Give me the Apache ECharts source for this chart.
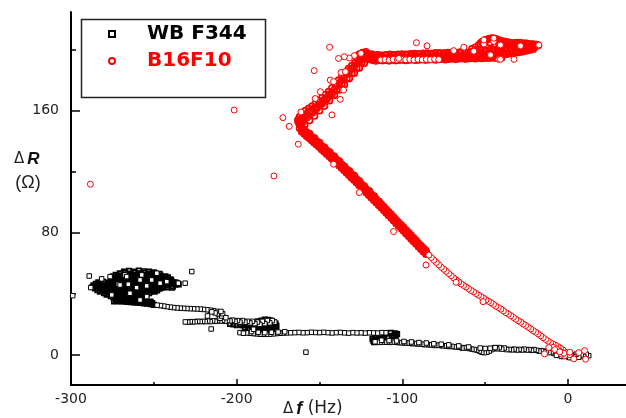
<!DOCTYPE html>
<html>
<head>
<meta charset="utf-8">
<script src="https://cdn.jsdelivr.net/npm/echarts@6/dist/echarts.min.js"></script>
<style>html,body{margin:0;padding:0;background:#fff}#c{width:626px;height:418px}</style>
</head>
<body>
<div id="c"></div>
<script>
// ---- axis ticks ----
const xMajorTicks = [-300, -200, -100, 0];
const xMinorTicks = [-250, -150, -50];
const yMajorTicks = [0, 80, 160];
const yMinorTicks = [40, 120, 200];

// ---- WB F344 (black squares) ----
const wbOriginBand = [
[12.5,-0.5],[11,0.5],[9.5,-1],[8,0],[6.5,-1.5],[5,0.5],[3.5,-1],[2,0],[0.5,-1.5],[-1,0],[-2.5,-1],[-4,1],[-5.5,0.5],[-7,1.5],[-8.5,1],[-10,2],[-11.5,1.5],[-13,2.5],[-14.5,2],[-16,2.8],[-17.5,2.5],[-19,3],[-20.5,3.5],[-22,3],[-23.5,3.5],[-25,3.2],[-26.5,3.8],[-28,3.2],[-29.5,3.6],[-31,3.2],[-32.5,3.8],[-34,3.3],[-35.5,3.6],[-37,3.5],[-38.5,4.5],[-40,3.8],[-41.5,4.8],[-43,4],[-44.5,4.6],[-46,3.5],[-47.5,2.5],[-49,1.8],[-50.5,1.5],[-52,1.8],[-53.5,2.5],[-55,3.2],[-56.5,3.5],[-58,3.8],[-59.5,4.2],[-61,4.5],[-62.5,4.8],[-64,4.5],[-65.5,5],[-67,5.2],[-68.5,5.3],[-70,5.6],[-71.5,5.5],[-73,5.8],[-74.5,6],[-76,6],[-77.5,6.2],[-79,6.4],[-80.5,6.2],[-82,6.5],[-83.5,6.6],[-85,6.8],[-86.5,6.7],[-88,7],[-89.5,7.2],[-91,7.2],[-92.5,7.5],[-94,7.4],[-95.5,7.6],[-97,7.8],[-98.5,7.8],[-100,8],[-101.5,8],[-103,8.2],[-104.5,8.3],[-106,8.4],[-107.5,8.2],[-109,8.4],[-110.5,8.3],[-112,8.5],[-113.5,8.2],[-115,8.4],[-116.5,8.6],
[-44,4.8],[-47,4.4],[-50,4.2],[-53,4.5],[-4,-1],[1,-1.8],[-7,-0.3],
[-72,6.6],[-76.5,7],[-81,7.3],[-85.5,7.8],[-90,8.1],[-94.5,8.5],[-99,8.8],[-103.5,9.2],[-108,9.4],[-112.5,9.6],[-60,5.2],[-66,5.9]
];
const wbLoop105 = [
[-117.5,9.2],[-116,10],[-113.5,10.6],[-111,11.2],[-108.5,11.8],[-106,12.4],[-104,13],[-103.2,13.6],[-104.5,14.2],[-107,14.5],[-115,9.5],[-117,8.3],[-112,10.2],[-109,11],[-105,12.6],[-118,10.5],[-116.5,11.5],[-114,12]
];
const wbRow15 = [
[-110,14.5],[-112.5,14.6],[-115,14.3],[-117.5,14.4],[-120,14.5],[-122.5,14.3],[-125,14.5],[-127.5,14.4],[-130,14.6],[-132.5,14.3],[-135,14.5],[-137.5,14.7],[-140,14.6],[-142.5,14.4],[-145,14.6],[-147.5,14.8],[-150,14.6],[-152.5,14.7],[-155,14.8],[-157.5,14.6],[-160,14.5],[-162.5,14.7],[-165,14.6],[-167.5,14.5],[-170,14.4],[-172,14.3],[-174,14.2],[-176,14],[-178,13.8],[-180,13.6],[-182,13.5],[-184,13.5],[-186,13.6],[-188,13.8],[-190,14],[-192,14.2],[-194,14.4],[-196,14.5],[-198,14.6],
[-171,15.2],[-175,15],[-179,14.8],[-183,14.6],[-187,14.8],[-191,15.3]
];
const wbLoop180 = [
[-176.5,20.5],[-176,19],[-176.5,17.5],[-177.5,16],[-179,15],[-181,14.5],[-183,15],[-185,15.5],[-187,16],[-189,16.5],[-178,21.5],[-179.5,22.5],[-181,23],[-183,23.2],[-185,22.5],[-187,22],[-184,17.5],[-186,18.5],[-188,19],[-190,19.5],[-180,18],[-182,19.5],[-178.5,17.5],
[-178,19.5],[-180,20],[-182,20.3],[-184,19.8],[-186,20.2],[-188,19.6],[-190,20],[-192,19.4],[-194,19.8],[-196,19.3],[-198,19.7],[-200,19.5],[-202,20],[-204,20.3],
[-179,17.8],[-181,16.8],[-183,17.2],[-185,17],[-187,17.6],[-189,17.3],[-191,17.8],[-193,17.5],[-195,17.9]
];
const wbRow22 = [
[-177,21.5],[-178.5,22.5],[-180,21],[-181.5,22.5],[-183,20.5],[-184.5,22],[-186,20],[-187.5,21.5],[-189,20.5],[-190.5,22],[-192,21],[-193.5,22],[-195,21.5],[-196.5,22.5],[-198,21.5],[-199.5,22.5],[-201,22],[-202.5,22.8],[-204,22.3],[-205.5,22.5],[-207,22],[-208.5,22.6],[-210,22.2],[-211.5,22.5],[-213,22],[-214.5,22.3],[-216,21.8],[-217.5,22.2],[-219,21.8],[-220.5,22],[-222,21.8],[-223.5,22],[-225,21.8],[-226.5,21.6],[-228,21.8],[-229.5,21.5],[-231,21.6],
[-210,24],[-209,25.5],[-208.5,27],[-209.5,28.5]
];
const wbRow33Thin = [
[-210,27.5],[-212,28.5],[-214,29],[-216,29.3],[-218,29.6],[-220,29.8],[-222,30],[-224,30.1],[-226,30.2],[-228,30.3],[-230,30.4],[-232,30.5],[-234,30.6],[-236,30.8],[-238,31],[-240,31.3],[-242,31.6],[-244,32],[-246,32.3],[-248,32.6],
[-211,26.5],[-213,27.5],[-215,28.2]
];
const wbRow33Thick = [
[-250,32.8],[-252,33.2],[-254,33.5],[-256,33.8],[-258,34],[-260,34.2],[-262,34.4],[-264,34.6],[-266,34.8],[-268,35],[-270,35],[-272,35.2],[-274,35],
[-252,35],[-256,35.8],[-260,36],[-264,36.2],[-268,36.4],[-272,36.3],
[-251,34],[-253,34.6],[-255,34.9],[-257,35.2],[-259,35.3],[-261,35.5],[-263,35.6],[-265,35.8],[-267,36],[-269,36],[-271,36.1],[-273,36]
];
const wbCluster = [
[-268,54.5],[-265,55],[-262,54.6],[-259,55.2],[-256,54.8],[-253,54.5],[-250,54],
[-273,52.5],[-270,53],[-267,52.4],[-264,52.8],[-261,52.3],[-258,52.9],[-255,52.5],[-252,52.2],[-249,52.6],[-246,52],[-243,51.5],
[-275,50.5],[-272,50.8],[-269,50.3],[-266,50.7],[-263,50.2],[-260,50.6],[-257,50.4],[-254,50.8],[-251,50.2],[-248,50.5],[-245,50.1],[-242,49.8],[-240,49.5],
[-276,48.5],[-273,48.8],[-270,48.2],[-267,48.6],[-264,48.3],[-261,48.7],[-258,48.4],[-255,48.8],[-252,48.2],[-249,48.6],[-246,48.3],[-243,48],[-240,48.2],[-237,47.6],
[-285,46.5],[-282,46.8],[-279,46.3],[-276,46.7],[-273,46.2],[-270,46.6],[-267,46.4],[-264,46.8],[-261,46.2],[-258,46.5],[-255,46.3],[-252,46.7],[-249,46.2],[-246,46.5],[-243,46.1],[-240,46.4],[-237,46],[-235,46.2],
[-287,44.5],[-284,44.8],[-281,44.3],[-278,44.7],[-275,44.2],[-272,44.6],[-269,44.4],[-266,44.8],[-263,44.2],[-260,44.5],[-257,44.3],[-254,44.7],[-251,44.2],[-248,44.5],[-245,44.1],[-242,44.3],[-239,44],
[-284,42.5],[-281,42.8],[-278,42.3],[-275,42.7],[-272,42.2],[-269,42.6],[-266,42.4],[-263,42.8],[-260,42.2],[-257,42.5],[-254,42.3],[-251,42.6],[-248,42.2],
[-280,40.5],[-277,40.8],[-274,40.3],[-271,40.7],[-268,40.2],[-265,40.6],[-262,40.4],[-259,40.8],[-256,40.2],[-253,40.5],
[-276,38.5],[-273,38.8],[-270,38.3],[-267,38.7],[-264,38.2],[-261,38.6],[-258,38.4],[-255,38.8],
[-272,37],[-268,37.3],[-264,36.8],[-260,37.2],[-256,37]
];
const wbClusterInner = [
[-270.5,53.5],[-267.5,53.8],[-264.5,53.3],[-261.5,53.7],[-258.5,53.4],[-255.5,53.8],[-252.5,53.2],[-249.5,53.5],[-246.5,53.1],
[-274.5,51.5],[-271.5,51.8],[-268.5,51.3],[-265.5,51.7],[-262.5,51.4],[-259.5,51.6],[-256.5,51.2],[-253.5,51.7],[-250.5,51.3],[-247.5,51.5],[-244.5,51.1],[-241.5,50.8],
[-275.5,49.5],[-272.5,49.8],[-269.5,49.3],[-266.5,49.7],[-263.5,49.4],[-260.5,49.6],[-257.5,49.2],[-254.5,49.7],[-251.5,49.3],[-248.5,49.5],[-245.5,49.1],[-242.5,49.3],[-239.5,48.8],
[-283.5,47.5],[-280.5,47.8],[-277.5,47.3],[-274.5,47.7],[-271.5,47.4],[-268.5,47.6],[-265.5,47.2],[-262.5,47.7],[-259.5,47.3],[-256.5,47.5],[-253.5,47.1],[-250.5,47.6],[-247.5,47.2],[-244.5,47.4],[-241.5,47.1],[-238.5,47.3],[-236,46.9],
[-286.5,45.5],[-283.5,45.8],[-280.5,45.3],[-277.5,45.7],[-274.5,45.4],[-271.5,45.6],[-268.5,45.2],[-265.5,45.7],[-262.5,45.3],[-259.5,45.5],[-256.5,45.1],[-253.5,45.6],[-250.5,45.2],[-247.5,45.4],[-244.5,45.1],[-241.5,45.3],[-238.5,44.9],
[-285.5,43.5],[-282.5,43.8],[-279.5,43.3],[-276.5,43.7],[-273.5,43.4],[-270.5,43.6],[-267.5,43.2],[-264.5,43.7],[-261.5,43.3],[-258.5,43.5],[-255.5,43.1],[-252.5,43.6],[-249.5,43.2],[-246.5,43.4],
[-282.5,41.5],[-279.5,41.8],[-276.5,41.3],[-273.5,41.7],[-270.5,41.4],[-267.5,41.6],[-264.5,41.2],[-261.5,41.7],[-258.5,41.3],[-255.5,41.5],[-252.5,41.1],[-249.5,41.4],
[-278.5,39.5],[-275.5,39.8],[-272.5,39.3],[-269.5,39.7],[-266.5,39.4],[-263.5,39.6],[-260.5,39.2],[-257.5,39.7],[-254.5,39.3],
[-274.5,37.8],[-270.5,38],[-266.5,37.6],[-262.5,37.9],[-258.5,37.7]
];
const wbClusterHighlights = [
[-257.3,52.4],[-267.4,52.4],[-271.4,46.3],[-265.4,46.3],[-260.4,44.1],[-254.3,45.2],[-246.2,47],[-275.4,39.3],[-264.4,40.4],[-258.3,36],[-276.4,51.3],[-251.3,49.1],[-242.2,48],[-266.4,51.3],[-258.3,49.1],[-270.4,45.8],[-254.3,38.2]
];
const wbOutliers = [
[-289,51.7],[-299,38.8],[-281.5,49.8],[-288.1,44.1],[-227.1,54.6],[-231.1,47],[-235.2,47],[-248.2,53.5],[-217.6,25.5],[-215.4,17],[-195.9,14.2],[-189.8,16.8],[-158.2,1.8],[-206.5,24.4]
];

// ---- B16F10 (red circles) ----
const redLowerBranchSparse = [
[0,0.5],[-1.5,1.8],[-3,3.1],[-4.5,4.3],[-6,5.4],[-7.5,6.3],[-9,7],[-10.5,7.9],[-12,9],[-13.5,10.1],[-15,11.3],[-16.5,12.5],[-18,13.8],[-19.5,14.9],[-21,15.9],[-22.5,17.1],[-24,18.1],[-25.5,19.3],[-27,20.2],[-28.5,21.4],[-30,22.4],[-31.5,23.4],[-33,24.6],[-34.5,25.7],[-36,26.7],[-37.5,27.7],[-39,28.9],[-40.5,30],[-42,31],[-43.5,31.9],[-45,33.1],[-46.5,34.2],[-48,35.1],[-49.5,36.1],[-51,37.2],[-52.5,38.2],[-54,39.1],[-55.5,40.2],[-57,41.3],[-58.5,42.2],[-60,43.4],[-61.5,44.5],[-63,45.5],[-64.5,46.6],[-66,47.8],[-67.5,49.1],[-69,50.4],[-70.5,51.9],[-72,53.3],[-73.5,54.8],[-75,56.1],[-76.5,57.4],[-78,59],[-79.5,60.6],[-81,62.1],[-82.5,63.8],[-84,65.4],
[-5,2.5],[-7,4],[-3.5,1.5],[-1.5,0.5],[1,0.2],[-9,5],[-2,-0.5],[-4,0.5]
];
const redLowerBranchDense = [
[-85.5,66.9],[-87,68.5],[-88.5,70.2],[-90,71.8],[-91.5,73.6],[-93,75.3],[-94.5,76.9],[-96,78.6],[-97.5,80.3],[-99,82],[-100.5,83.7],[-102,85.4],[-103.5,87],[-105,88.8],[-106.5,90.5],[-108,92.2],[-109.5,93.8],[-111,95.6],[-112.5,97.3],[-114,98.9],[-115.5,100.6],[-117,102.2],[-118.5,103.9],[-120,105.5],[-121.5,107.1],[-123,108.8],[-124.5,110.5],[-126,112.1],[-127.5,113.8],[-129,115.4],[-130.5,117],[-132,118.6],[-133.5,120.2],[-135,121.8],[-136.5,123.4],[-138,125],[-139.5,126.5],[-141,128],[-142.5,129.5],[-144,131.1],[-145.5,132.6],[-147,134],[-148.5,135.5],[-150,137],[-151.5,138.5],[-153,140],[-154.5,141.3],[-156,142.8],[-157.5,144.2],[-159,145.6],[-160.5,147],[-162,148.5]
];
const redLowerBranchUpperRow = [
[-85.75,68.4],[-87.25,70],[-88.75,71.6],[-90.25,73.3],[-91.75,75],[-93.25,76.7],[-94.75,78.4],[-96.25,80.1],[-97.75,81.8],[-99.25,83.5],[-100.75,85.2],[-102.25,86.9],[-103.75,88.5],[-105.25,90.3],[-106.75,92],[-108.25,93.7],[-109.75,95.3],[-111.25,97.1],[-112.75,98.8],[-114.25,100.4],[-115.75,102.1],[-117.25,103.7],[-118.75,105.4],[-120.25,107],[-121.75,108.6],[-123.25,110.3],[-124.75,112],[-126.25,113.6],[-127.75,115.3],[-129.25,116.9],[-130.75,118.5],[-132.25,120.1],[-133.75,121.7],[-135.25,123.3],[-136.75,124.9],[-138.25,126.5],[-139.75,128],[-141.25,129.5],[-142.75,131],[-144.25,132.5],[-145.75,134],[-147.25,135.5],[-148.75,137],[-150.25,138.5],[-151.75,140],[-153.25,141.4],[-154.75,142.8],[-156.25,144.3],[-157.75,145.7],[-159.25,147.1],[-160.75,148.5]
];
const redLowerBranchLowerRow = [
[-85.75,66],[-87.25,67.6],[-88.75,69.2],[-90.25,70.9],[-91.75,72.6],[-93.25,74.3],[-94.75,76],[-96.25,77.7],[-97.75,79.4],[-99.25,81.1],[-100.75,82.8],[-102.25,84.5],[-103.75,86.1],[-105.25,87.9],[-106.75,89.6],[-108.25,91.3],[-109.75,92.9],[-111.25,94.7],[-112.75,96.4],[-114.25,98],[-115.75,99.7],[-117.25,101.3],[-118.75,103],[-120.25,104.6],[-121.75,106.2],[-123.25,107.9],[-124.75,109.6],[-126.25,111.2],[-127.75,112.9],[-129.25,114.5],[-130.75,116.1],[-132.25,117.7],[-133.75,119.3],[-135.25,120.9],[-136.75,122.5],[-138.25,124.1],[-139.75,125.6],[-141.25,127.1],[-142.75,128.6],[-144.25,130.1],[-145.75,131.6],[-147.25,133.1],[-148.75,134.6],[-150.25,136.1],[-151.75,137.6],[-153.25,139],[-154.75,140.4],[-156.25,141.9],[-157.75,143.3],[-159.25,144.7],[-160.75,146.1]
];
const redLowerBranchInner = [
[-114,100.5],[-117,104],[-120,107.5],[-123,110.5],[-126,114],[-129,117.5],[-132,120.5],[-135,123.5],[-138,127],[-141,130],[-144,133],[-147,136],[-150,139],[-153,142],[-156,145],[-159,147.5],[-161,150],[-162.5,152],[-163,154],[-162,156]
];
const redRisingBranch = [
[-162,151],[-161,153],[-160,155],[-159,156.5],[-157.5,158],[-156,159],[-154.5,160],[-153,161],[-151.5,162.5],[-150,164],[-148.5,165.5],[-147,167],[-145.5,168.5],[-144,170.5],[-142.5,172],[-141,174],[-139.5,176],[-138,178],[-136.5,180],[-135,182],[-133.5,184],[-132,186],[-130.5,187.5],[-129,189],[-127.5,190.5],[-126,192],[-124.5,193.5],[-123,194.5],[-121.5,195.5],[-120,196.5],[-118.5,197],
[-159,150.5],[-156,153.5],[-153,156.5],[-150,160],[-147,163],[-144,166.5],[-141,170],[-138,173.5],[-135,177],[-132,181],[-129,184.5],[-126,188],[-123,191],[-120,193.5],[-117,195],
[-160.5,152],[-157.5,155.5],[-154.5,158.5],[-151.5,161.5],[-148.5,164.5],[-145.5,167.5],[-142.5,170.5],[-139.5,174],[-136.5,177.5],[-133.5,181],[-130.5,184.5],[-127.5,188],[-124.5,191.5],[-121.5,194],[-118.5,196],
[-163,153],[-162,156],[-160.5,158],[-158.5,160],[-156.5,161.5],[-154.5,163],[-152.5,164.5],[-150.5,166.5],[-148.5,168.5],[-146.5,170.5],[-144.5,172.5],[-142.5,175],[-140.5,177.5],[-138.5,180],[-136.5,182.5],[-134.5,185],[-132.5,187.5],[-130.5,189.5],[-128.5,191.5],[-126.5,193.5],[-124.5,195.5],[-122.5,197],
[-128,195.5],[-126,197],[-124,198],[-122,198.5],[-121,197.5],[-125,195],[-123,196]
];
const redPlateau = [
[-118,193],[-116,192.5],[-114,193],[-112,192.8],[-110,193],[-108,192.6],[-106,193.2],[-104,192.8],[-102,193],[-100,193.3],[-98,192.9],[-96,193.1],[-94,193.4],[-92,193],[-90,193.2],[-88,193.5],[-86,193.1],[-84,193.4],[-82,193.6],[-80,193.2],[-78,193.5],[-76,193.8],[-74,193.4],[-72,193.7],[-70,194],[-68,193.6],[-66,193.9],[-64,194.2],[-62,193.8],[-60,194.1],[-58,194.3],[-56,194],[-54,194.4],[-52,194.2],[-50,194.5],[-48,194.3],[-46,194.6],[-44,194.4],[-42,194.8],[-40,194.6],
[-117,193.8],[-115,193.6],[-113,193.7],[-111,193.8],[-109,193.9],[-107,193.8],[-105,194],[-103,193.9],[-101,194.1],[-99,194],[-97,194.2],[-95,194.3],[-93,194.4],[-91,194.3],[-89,194.5],[-87,194.6],[-85,194.6],[-83,194.7],[-81,194.8],[-79,194.9],[-77,195],[-75,195],[-73,195.1],[-71,195.2],[-69,195.3],[-67,195.4],[-65,195.5],[-63,195.5],[-61,195.6],[-59,195.7],[-57,195.8],[-55,195.9],[-53,196],[-51,196.1],[-49,196.2],[-47,196.3],[-45,196.4],[-43,196.5],[-41,196.6],[-39,196.8],[-37,197],[-35,197.3],[-33,197.6],[-31,197.9],[-29,198.3],[-27,198.7],[-25,199.2],[-23,199.7],[-21,200.2],
[-119,194.5],[-115,194.8],[-111,194.6],[-107,195],[-103,194.9],[-99,195.2],[-95,195.3],[-91,195.5],[-87,195.6],[-83,195.8],[-79,196],[-75,196.1],[-71,196.3],[-67,196.5],[-63,196.6],[-59,196.8],[-55,197],[-51,197.3],[-47,197.6],[-43,198],[-39,198.2],[-35,198.8],[-31,199.3],[-27,200],[-23,200.8],[-20,201.5],
[-118,196],[-114,196.2],[-110,196.1],[-106,196.5],[-102,196.4],[-98,196.7],[-94,196.8],[-90,197],[-86,197.1],[-82,197.3],[-78,197.5],[-74,197.6],[-70,197.8],[-66,198],[-62,198.1],[-58,198.3],[-54,198.5],[-50,198.9],[-46,199.2],[-42,199.6],[-38,200],[-34,200.5],[-30,201],[-26,201.6],[-22,202.2],
[-120,196],[-117.5,196.3],[-115,196.5],[-112.5,196.2],[-110,196.6],[-107.5,196.8],[-105,196.5],[-102.5,196.9],[-100,197],[-97.5,196.8],[-95,197.2],[-92.5,197.4],[-90,197.1],[-87.5,197.5],[-85,197.6],[-82.5,197.3],[-80,197.8],[-77.5,197.9],[-75,197.6],[-72.5,198],[-70,198.2],[-67.5,197.9],[-65,198.4],[-62.5,198.5],[-60,198.2],[-57.5,198.7],[-55,199],[-52.5,199.3],[-50,199.6],[-47.5,199.8],[-45,200.2],[-42.5,200.5],[-40,200.8],[-37.5,201],[-35,201.2],[-32.5,201.5],[-30,201.8],[-27.5,202],[-25,202.3],[-22.5,202.6],[-20,202.8],[-18,203],
[-53,204],[-51,205.5],[-49,206.5],[-47,207.2],[-45,206.5],[-43,205.5],[-41,204.5],[-39,203.5],[-37,203],[-35,202.8],[-33,203],[-31,203.2],[-29,203],[-27,202.8],[-25,202.5],[-23,202.3],[-21,202],[-47,204.5],[-44,203.5],[-41,202.5],
[-54,203],[-52,205],[-50,206.3],[-48,207],[-46,207.5],[-44.5,207.4],[-43,206.8],[-41,206],[-39,205.4],[-37,205],[-35,204.6],[-33,204.4],[-31,204.6],[-29,204.5],[-27,204.3],[-25,204],[-23,203.8],[-21,203.5],[-19,203.2],[-56,201.5],[-58,200.5]
];
const redPlateauHighlights = [
[-113,193.2],[-110.5,193.4],[-108,193.1],[-105.5,193.5],[-103,193.2],[-100.5,193.6],[-98,193.3],[-95.5,193.5],[-93,193.2],[-90.5,193.6],[-88,193.3],[-85.5,193.5],[-83,193.4],[-80.5,193.7],[-78,193.5],
[-56.9,198.9],[-50.8,203.7],[-44.8,205.4],[-40.8,203],[-28.7,202.4],[-17.6,202.4],[-41.8,193.6],[-46.8,196.5],[-102.2,194.2],[-69,199.3],[-125,197.5],[-129,196],[-132,194.5]
];
const redOutliers = [
[-201.5,160.4],[-288.3,111.8],[-177.5,117.2],[-172.1,155.4],[-168.3,149.7],[-162.8,138],[-161.2,159.1],[-153.2,186.2],[-152.6,167.9],[-149.5,172.4],[-143.9,201.5],[-138.5,194.2],[-135,195.3],[-143.5,180],[-141.5,179],[-135.5,173.5],[-137.5,167.4],[-142.5,157.2],[-137,185],[-134.4,185.5],[-141.5,124.9],[-126,106.3],[-105.3,80.8],[-85.7,58.9],[-67.6,47.6],[-51.3,34.9],[-91.5,204.5],[-85.1,202.4],[-62.9,201.5],[-50.8,206.3],[-44.8,207.4],[-40.8,193.6],[-32.6,193.6],[-17.6,203],[-14.2,0.7],[-11.6,4.8],[3.5,-2.6],[6.5,1.5],[10,2.8],[10.6,-2.8],[-2.5,1.1],[1.1,1.8],[-8,3.5],[-5,2]
];

// dense (overlapping) stretches are drawn as heavier rings; sparse points keep the white fill
const hollow = p => ({value: p, itemStyle: {color: 'rgba(255,255,255,0)', borderWidth: 1.7}});
const wbData = [].concat(
  [].concat(wbCluster, wbClusterInner, wbRow33Thick, wbLoop180, wbLoop105).map(hollow),
  wbClusterHighlights, wbRow33Thin, wbRow22, wbRow15, wbOriginBand, wbOutliers);
const redData = [].concat(
  [].concat(redLowerBranchDense, redLowerBranchUpperRow, redLowerBranchLowerRow, redLowerBranchInner, redRisingBranch, redPlateau).map(hollow),
  redPlateauHighlights, redLowerBranchSparse, redOutliers);

const chart = echarts.init(document.getElementById('c'), null, {renderer: 'canvas'});
const labelFont = {fontFamily: 'DejaVu Sans', fontSize: 14, color: '#222'};
const X_MIN = -300, X_MAX = 35, Y_MIN = -19.7, Y_MAX = 224.6;

chart.setOption({
  animation: false,
  backgroundColor: '#fff',
  grid: {left: 71, right: 0, top: 12, bottom: 33, containLabel: false},
  xAxis: [
    {type: 'value', min: X_MIN, max: X_MAX, position: 'bottom',
     axisLine: {show: true, onZero: false, lineStyle: {color: '#000', width: 2}},
     axisTick: {show: true, inside: true, length: 6, customValues: xMajorTicks, lineStyle: {color: '#000', width: 1.5}},
     axisLabel: Object.assign({show: true, margin: 7, customValues: xMajorTicks}, labelFont),
     splitLine: {show: false}},
    {type: 'value', min: X_MIN, max: X_MAX, position: 'bottom',
     axisLine: {show: false, onZero: false},
     axisTick: {show: true, inside: true, length: 3, customValues: xMinorTicks, lineStyle: {color: '#000', width: 1.5}},
     axisLabel: {show: false}, splitLine: {show: false}}
  ],
  yAxis: [
    {type: 'value', min: Y_MIN, max: Y_MAX, position: 'left',
     axisLine: {show: true, onZero: false, lineStyle: {color: '#000', width: 2}},
     axisTick: {show: true, inside: true, length: 9, customValues: yMajorTicks, lineStyle: {color: '#000', width: 1.5}},
     axisLabel: Object.assign({show: true, margin: 12, customValues: yMajorTicks}, labelFont),
     splitLine: {show: false}},
    {type: 'value', min: Y_MIN, max: Y_MAX, position: 'left',
     axisLine: {show: false, onZero: false},
     axisTick: {show: true, inside: true, length: 5, customValues: yMinorTicks, lineStyle: {color: '#000', width: 1.5}},
     axisLabel: {show: false}, splitLine: {show: false}}
  ],
  legend: {
    orient: 'vertical', left: 108, top: 23, padding: 0, itemGap: 5,
    itemWidth: 6, itemHeight: 6, selectedMode: false,
    textStyle: {fontFamily: 'DejaVu Sans', fontSize: 20, fontWeight: 'bold', lineHeight: 22, padding: [0, 0, 0, 27]},
    data: [
      {name: 'WB F344', icon: 'rect', textStyle: {color: '#000'}},
      {name: 'B16F10', icon: 'circle', textStyle: {color: '#ff0000'}}
    ]
  },
  graphic: [
    {type: 'rect', shape: {x: 81.5, y: 19.5, width: 184, height: 78}, style: {fill: 'none', stroke: '#222', lineWidth: 1.5}, z: 10},
    {type: 'text', x: 14, y: 151, style: {text: '{d|Δ}{r|R}', rich: {d: {fontFamily: 'DejaVu Sans', fontSize: 15, fill: '#222', padding: [0, 3, 0, 0]}, r: {fontFamily: 'Liberation Sans', fontSize: 17, fontWeight: 'bold', fontStyle: 'italic', fill: '#111'}}}},
    {type: 'text', x: 28, y: 183, style: {text: '(Ω)', fontFamily: 'Liberation Sans', fontSize: 18, fill: '#222', align: 'center', verticalAlign: 'middle'}},
    {type: 'text', x: 283, y: 400, style: {text: '{d|Δ}{f|f}{n| (Hz)}', rich: {d: {fontFamily: 'DejaVu Sans', fontSize: 15, fill: '#222', padding: [0, 3, 0, 0]}, f: {fontFamily: 'Liberation Sans', fontSize: 18, fontWeight: 'bold', fontStyle: 'italic', fill: '#111'}, n: {fontFamily: 'DejaVu Sans', fontSize: 17, fill: '#222'}}}}
  ],
  series: [
    {name: 'WB F344', type: 'scatter', data: wbData, symbol: 'rect', symbolSize: 4.5,
     itemStyle: {color: '#fff', borderColor: '#000', borderWidth: 1, opacity: 1}},
    {name: 'B16F10', type: 'scatter', data: redData, symbol: 'circle', symbolSize: 6,
     itemStyle: {color: '#fff', borderColor: '#ff0000', borderWidth: 1, opacity: 1}}
  ]
});
</script>
</body>
</html>
